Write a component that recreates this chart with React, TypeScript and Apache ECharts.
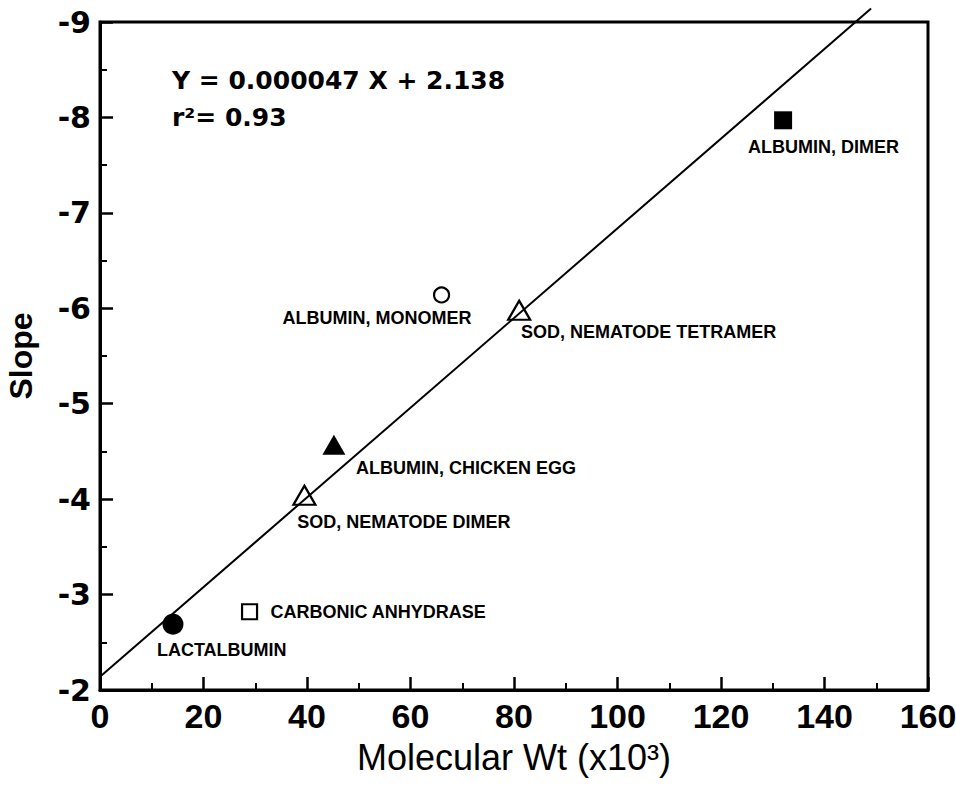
import React, { useEffect, useRef } from "react";
import * as echarts from "echarts";

// ---- data ----
const proteins = [
  "LACTALBUMIN",
  "CARBONIC ANHYDRASE",
  "SOD, NEMATODE DIMER",
  "ALBUMIN, CHICKEN EGG",
  "ALBUMIN, MONOMER",
  "SOD, NEMATODE TETRAMER",
  "ALBUMIN, DIMER",
];
const molWt = [14.1, 28.9, 39.5, 45.2, 66, 81, 132]; // x10^3
const slopeValues = [-2.69, -2.82, -4.04, -4.57, -6.14, -5.98, -7.97];

// regression reported on the chart: Y = 0.000047 X + 2.138 (Y plotted as negative slope)
const fitSlopePerK = 0.047;
const fitIntercept = 2.138;
const fitRange = [0, 149];
const equationText = "Y = 0.000047 X + 2.138";
const r2Text = "r\u00B2= 0.93";

const xTitle = "Molecular Wt (x10\u00B3)";
const yTitle = "Slope";

// ---- marker styling (not data) ----
const markerStyles = [
  { symbol: "circle", size: [21, 21], filled: true, offset: [-16, 26] },
  { symbol: "rect", size: [15, 15], filled: false, offset: [22, 1] },
  { symbol: "triangle", size: [22, 19], filled: false, offset: [-6, 28] },
  { symbol: "triangle", size: [23, 20], filled: true, offset: [22, 23] },
  { symbol: "circle", size: [15, 15], filled: false, offset: [-158, 24] },
  { symbol: "triangle", size: [22, 19], filled: false, offset: [3, 23] },
  { symbol: "rect", size: [18, 18], filled: true, offset: [-35, 27] },
];

export default function App() {
  const ref = useRef<HTMLDivElement>(null);

  useEffect(() => {
    if (!ref.current) return;
    const chart = echarts.init(ref.current, null, { renderer: "svg" });

    const points = molWt.map((x, i) => {
      const st = markerStyles[i];
      return {
        name: proteins[i],
        value: [x, slopeValues[i]],
        symbol: st.symbol,
        symbolSize: st.size,
        itemStyle: {
          color: st.filled ? "#000" : "rgba(0,0,0,0)",
          borderColor: "#000",
          borderWidth: st.filled ? 0 : 2.2,
          opacity: 1,
        },
        label: {
          show: true,
          position: [st.offset[0] + st.size[0] / 2, st.offset[1] + st.size[1] / 2],
          align: "left",
          verticalAlign: "middle",
          color: "#000",
          opacity: 1,
          textBorderWidth: 0,
        },
      };
    });

    const fitLine = fitRange.map((x) => [x, -(fitIntercept + fitSlopePerK * x)]);

    const option: any = {
      animation: false,
      backgroundColor: "#fff",
      grid: {
        left: 100,
        right: 28,
        top: 22,
        bottom: 95,
        outerBoundsMode: "none",
        containLabel: false,
        show: true,
        borderColor: "#000",
        borderWidth: 3,
        backgroundColor: "transparent",
      },
      xAxis: {
        type: "value",
        min: 0,
        max: 160,
        interval: 20,
        name: xTitle,
        nameLocation: "middle",
        nameGap: 49,
        nameTextStyle: {
          fontFamily: "Liberation Sans, Arial, sans-serif",
          fontSize: 36,
          color: "#000",
        },
        axisLine: { show: true, lineStyle: { color: "#000", width: 3 } },
        axisTick: { show: true, inside: true, length: 13, lineStyle: { color: "#000", width: 2.5 } },
        minorTick: { show: true, splitNumber: 2, length: 7, lineStyle: { color: "#000", width: 2 } },
        splitLine: { show: false },
        minorSplitLine: { show: false },
        axisLabel: {
          margin: 9,
          color: "#000",
          fontSize: 34,
          fontWeight: "bold",
          fontFamily: "'Liberation Sans Narrow', 'Arial Narrow', 'Liberation Sans', sans-serif",
        },
      },
      yAxis: {
        type: "value",
        min: -9,
        max: -2,
        interval: 1,
        inverse: true,
        name: yTitle,
        nameLocation: "middle",
        nameGap: 63,
        nameRotate: 90,
        nameTextStyle: {
          fontFamily: "Liberation Sans, Arial, sans-serif",
          fontWeight: "bold",
          fontSize: 32,
          color: "#000",
        },
        axisLine: { show: true, lineStyle: { color: "#000", width: 3 } },
        axisTick: { show: true, inside: true, length: 13, lineStyle: { color: "#000", width: 2.5 } },
        minorTick: { show: true, splitNumber: 2, length: 7, lineStyle: { color: "#000", width: 2 } },
        splitLine: { show: false },
        minorSplitLine: { show: false },
        axisLabel: {
          margin: 9,
          color: "#000",
          fontSize: 30,
          fontWeight: "bold",
          fontFamily: "'DejaVu Sans', sans-serif",
        },
      },
      series: [
        {
          type: "line",
          data: fitLine,
          symbol: "none",
          clip: false,
          silent: true,
          lineStyle: { color: "#000", width: 2 },
          z: 1,
        },
        {
          type: "scatter",
          data: points,
          z: 3,
          itemStyle: { opacity: 1 },
          label: {
            show: true,
            formatter: "{b}",
            color: "#000",
            fontSize: 18,
            fontWeight: "bold",
            fontFamily: "Liberation Sans, Arial, sans-serif",
          },
          labelLayout: { hideOverlap: false },
        },
      ],
      graphic: [
        {
          type: "text",
          left: 172,
          top: 68,
          style: {
            text: equationText,
            fill: "#000",
            font: "bold 25px 'DejaVu Sans', sans-serif",
          },
        },
        {
          type: "text",
          left: 172,
          top: 105,
          style: {
            text: r2Text,
            fill: "#000",
            font: "bold 25px 'DejaVu Sans', sans-serif",
          },
        },
      ],
    };

    chart.setOption(option);
    return () => chart.dispose();
  }, []);

  return (
    <div
      ref={ref}
      style={{ position: "fixed", left: 0, top: 0, width: 956, height: 785, background: "#fff" }}
    />
  );
}
